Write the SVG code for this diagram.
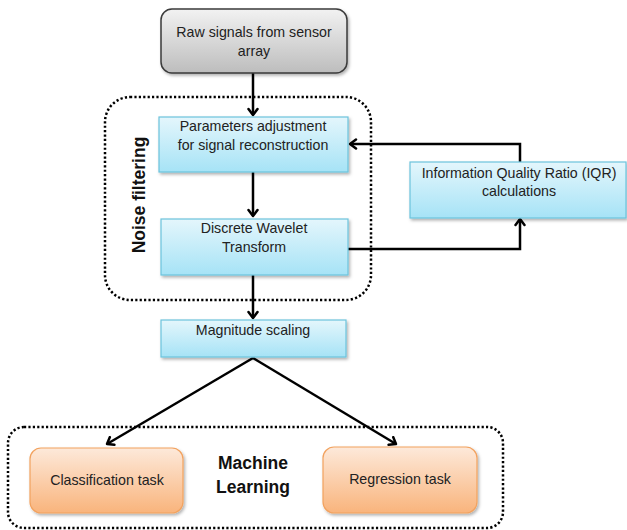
<svg xmlns="http://www.w3.org/2000/svg" width="627" height="530" viewBox="0 0 627 530">
<defs>
<linearGradient id="gGray" x1="0" y1="0" x2="0" y2="1"><stop offset="0" stop-color="#f2f2f2"/><stop offset="1" stop-color="#bdbdbd"/></linearGradient>
<linearGradient id="gBlue" x1="0" y1="0" x2="0" y2="1"><stop offset="0" stop-color="#e4f6fc"/><stop offset="1" stop-color="#a6e3f6"/></linearGradient>
<linearGradient id="gOrange" x1="0" y1="0" x2="0" y2="1"><stop offset="0" stop-color="#fde9da"/><stop offset="1" stop-color="#f9b47c"/></linearGradient>
<filter id="sh" x="-10%" y="-10%" width="125%" height="140%"><feDropShadow dx="1.5" dy="2" stdDeviation="1.5" flood-color="#000" flood-opacity="0.3"/></filter>
<marker id="arr" markerWidth="12" markerHeight="12" refX="9" refY="6" orient="auto" markerUnits="userSpaceOnUse">
<path d="M3,1.5 L9,6 L3,10.5" fill="none" stroke="#000" stroke-width="2.5" stroke-linecap="round" stroke-linejoin="round"/>
</marker>
</defs>
<style>
text{font-family:"Liberation Sans",Arial,sans-serif;font-size:14.2px;fill:#222;text-anchor:middle}
.bold{font-weight:bold;font-size:17.5px;fill:#111}
.gray{fill:url(#gGray);stroke:#3a3a3a;stroke-width:1.5}
.blue{fill:url(#gBlue);stroke:#6cc3dc;stroke-width:1.2}
.orange{fill:url(#gOrange);stroke:#f2a25e;stroke-width:1.2}
.dot{fill:none;stroke:#000;stroke-width:2.5;stroke-dasharray:2.2 2.2}
.con{fill:none;stroke:#000;stroke-width:2.5}
</style>
<g id="group-noise-filtering">
<rect class="dot" x="105" y="97" width="266" height="203" rx="25"/>
<text class="bold" transform="translate(145,195) rotate(-90)">Noise filtering</text>
</g>
<g id="group-machine-learning">
<rect class="dot" x="8" y="427" width="495" height="101" rx="16"/>
<text class="bold" x="253" y="469">Machine</text>
<text class="bold" x="253" y="493">Learning</text>
</g>
<g id="connectors">
<path class="con" d="M253,73 V115" marker-end="url(#arr)"/>
<path class="con" d="M253,172 V216" marker-end="url(#arr)"/>
<path class="con" d="M253,275 V318" marker-end="url(#arr)"/>
<path class="con" d="M348,249 H520 V219" marker-end="url(#arr)"/>
<path class="con" d="M520,162 V144 H350" marker-end="url(#arr)"/>
<path class="con" d="M253,358 L107,444" marker-end="url(#arr)"/>
<path class="con" d="M253,358 L396,444" marker-end="url(#arr)"/>
</g>
<g id="node-raw">
<rect class="gray" x="161" y="9" width="186" height="64" rx="11" filter="url(#sh)"/>
<text x="254" y="37">Raw signals from sensor</text>
<text x="254" y="56">array</text>
</g>
<g id="node-params">
<rect class="blue" x="159" y="117" width="189" height="55" filter="url(#sh)"/>
<text x="253" y="131">Parameters adjustment</text>
<text x="253" y="150">for signal reconstruction</text>
</g>
<g id="node-dwt">
<rect class="blue" x="161" y="219" width="187" height="56" filter="url(#sh)"/>
<text x="254" y="233">Discrete Wavelet</text>
<text x="254" y="252">Transform</text>
</g>
<g id="node-iqr">
<rect class="blue" x="410" y="162" width="216" height="56" filter="url(#sh)"/>
<text x="519" y="178">Information Quality Ratio (IQR)</text>
<text x="519" y="196">calculations</text>
</g>
<g id="node-magnitude">
<rect class="blue" x="161" y="320" width="185" height="37" filter="url(#sh)"/>
<text x="253" y="335">Magnitude scaling</text>
</g>
<g id="node-classification">
<rect class="orange" x="30" y="448" width="153" height="65" rx="11" filter="url(#sh)"/>
<text x="107" y="485">Classification task</text>
</g>
<g id="node-regression">
<rect class="orange" x="323" y="447" width="154" height="66" rx="11" filter="url(#sh)"/>
<text x="400" y="484">Regression task</text>
</g>
</svg>
